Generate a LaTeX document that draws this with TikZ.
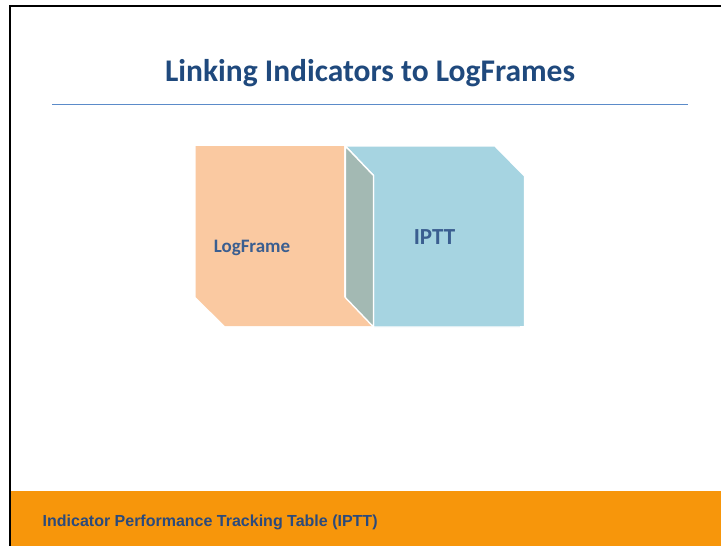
\documentclass[tikz,border=0pt]{standalone}
\usepackage{fontspec}
\setmainfont{Carlito}
\newfontfamily\footfont{Liberation Sans}
\definecolor{titleblue}{HTML}{1F497D}
\definecolor{rulebl}{HTML}{5B8BC9}
\definecolor{labelblue}{HTML}{3A5E90}
\definecolor{peach}{HTML}{FAC9A1}
\definecolor{skyface}{HTML}{A6D4E1}
\definecolor{sideface}{HTML}{A3B9B3}
\definecolor{bandorange}{HTML}{F7960B}
\definecolor{foottext}{HTML}{2B4A7C}
\begin{document}
\begin{tikzpicture}[x=1pt,y=-1pt,
  facepeach/.style={fill=peach,draw=none},
  faceblue/.style={fill=skyface,draw=white,line width=1.4pt,line join=miter},
  faceside/.style={fill=sideface,draw=white,line width=1.4pt,line join=miter},
  boxlabel/.style={text=labelblue,font=\bfseries,inner sep=0pt}]
  \useasboundingbox (0,0) rectangle (721,546);
  \fill[white] (0,0) rectangle (721,546);
  % footer band
  \fill[bandorange] (10,491) rectangle (721,546);
  % frame lines
  \draw[black,line width=2pt] (10,546) -- (10,5.7) -- (721,5.7);
  % title and rule
  \node[anchor=base,text=titleblue,font=\fontsize{31.5}{36}\selectfont\bfseries,inner sep=0pt]
    (title) at (370,81.7) {Linking Indicators to LogFrames};
  \draw[rulebl,line width=1.3pt] (52,104.3) -- (688,104.3);
  % LogFrame block
  \path[facepeach] (195.5,146) -- (344,146) -- (344,297) -- (373,326) -- (225,326) -- (195.5,297) -- cycle;
  % IPTT block: side face and front face
  \path[faceblue] (345.3,146) -- (495,146) -- (524.5,176) -- (524.5,327) -- (373.5,327) -- (373.5,175.5) -- cycle;
  \path[faceside] (345.3,146) -- (373.5,175.5) -- (373.5,327) -- (345.3,297.5) -- cycle;
  \fill[white] (520,326) rectangle (530,330);
  \node[boxlabel,anchor=base,font=\fontsize{19}{21}\selectfont\bfseries] (logframe) at (252,252.8) {LogFrame};
  \node[boxlabel,anchor=base,font=\fontsize{23}{26}\selectfont\bfseries] (iptt) at (434.5,244) {IPTT};
  % footer caption
  \node[anchor=base west,text=foottext,font=\footfont\fontsize{16}{18}\selectfont\bfseries,inner sep=0pt]
    (footer) at (42.5,526.7) {Indicator Performance Tracking Table (IPTT)};
\end{tikzpicture}
\end{document}
